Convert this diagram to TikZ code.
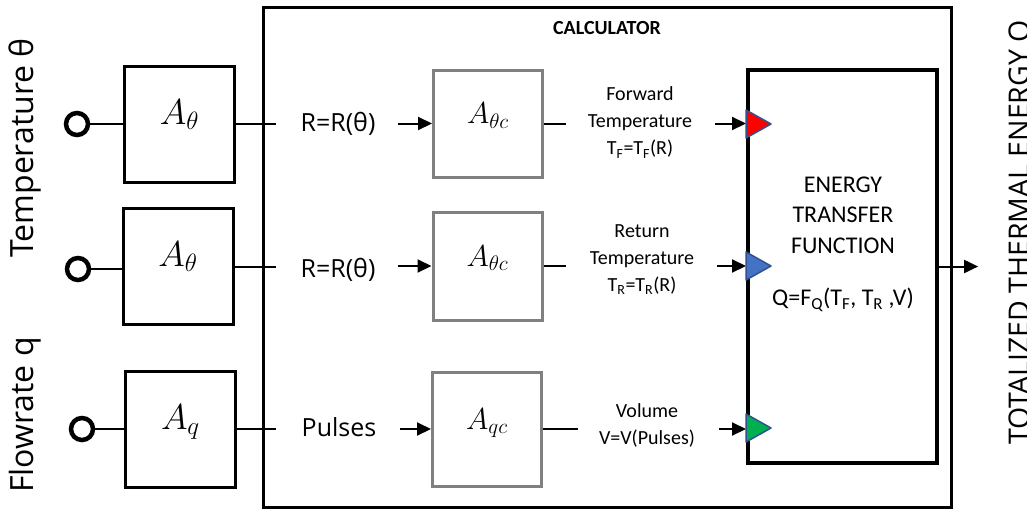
\documentclass[tikz,border=0pt]{standalone}
\usepackage{fontspec}
\setmainfont{Carlito}
\newfontfamily\segfont{Open Sans}
\usetikzlibrary{arrows.meta, positioning, calc}

\definecolor{markblue}{RGB}{68,114,196}
\definecolor{markedge}{RGB}{47,82,143}
\definecolor{markgreen}{RGB}{0,176,80}
\definecolor{boxgray}{RGB}{128,128,128}

\newcommand{\bigmath}[2]{\scalebox{#1}{$#2$}}

\begin{document}
\begin{tikzpicture}[
  x=1pt, y=-1pt,
  every node/.style={inner sep=0pt},
  port/.style={draw, circle, line width=4.5pt, minimum size=22pt},
  inbox/.style={draw, line width=3pt, minimum width=110pt, minimum height=116pt, text height=10pt, text depth=10pt, font=\fontsize{24}{24}\selectfont},
  convbox/.style={draw=boxgray, line width=3pt, minimum width=109pt, text height=9pt, text depth=9pt, font=\fontsize{24}{24}\selectfont},
  sig/.style={font=\segfont\fontsize{25}{25}\selectfont},
  qty/.style={align=center, font=\fontsize{20}{27}\selectfont},
  side/.style={rotate=90, font=\segfont\fontsize{32}{32}\selectfont},
  wire/.style={line width=2pt},
  arrow/.style={-{Triangle[length=14pt,width=13pt]}, line width=2pt},
]
\useasboundingbox (0,0) rectangle (1027,509);
\clip (0,0) rectangle (1027,509);

% Calculator frame
\node[draw, line width=3pt, minimum width=688pt, minimum height=500pt] (calc) at (607,257) {};
\node[font=\bfseries\fontsize{20}{20}\selectfont, below=16pt of calc.north] (calctitle) {CALCULATOR};

% Sensor inputs
\node[side, anchor=base] (templabel) at (33,148) {Temperature θ};
\node[side, anchor=base] (flowlabel) at (33,415) {Flowrate q};

\node[port] (in1) at (77,124) {};
\node[port] (in2) at (78,269) {};
\node[port] (in3) at (82,429) {};

\node[inbox] (sens1) at (179.5,124) {\bigmath{1.45}{A_\theta}};
\node[inbox] (sens2) at (178,266) {\bigmath{1.45}{A_\theta}};
\node[inbox] (sens3) at (180.5,429) {\bigmath{1.45}{A_q}};

\draw[wire] (in1) -- (sens1);
\draw[wire] (in2) -- (in2 -| sens2.west);
\draw[wire] (in3) -- (sens3);

\draw[wire] (sens1.east) -- ($(sens1.east -| calc.west)+(14,0)$);
\draw[wire] (sens2.east |- 0,267) -- ($(0,267 -| calc.west)+(14,0)$);
\draw[wire] (sens3.east) -- ($(sens3.east -| calc.west)+(14,0)$);

% Signals into the calculator
\node[sig] (res1) at (338,124) {R=R(θ)};
\node[sig] (res2) at (338,270) {R=R(θ)};
\node[sig] (pulses) at (339,427) {Pulses};

\node[convbox, minimum height=107pt] (conv1) at (488,123.5) {\bigmath{1.22}{A_{\theta c}}};
\node[convbox, minimum height=108pt] (conv2) at (487.5,266) {\bigmath{1.22}{A_{\theta c}}};
\node[convbox, minimum height=114pt] (conv3) at (487,429) {\bigmath{1.22}{A_{qc}}};

\draw[arrow, shorten <=22pt] (res1.east |- conv1) -- (conv1.west);
\draw[arrow, shorten <=22pt] (res2.east |- conv2) -- (conv2.west);
\draw[arrow, shorten <=23pt] (pulses.east |- conv3) -- (conv3.west);

% Converted quantities
\node[qty] (fwd) at (640,122.5) {Forward\\Temperature\\T\textsubscript{F}=T\textsubscript{F}(R)};
\node[qty] (ret) at (642,260) {Return\\Temperature\\T\textsubscript{R}=T\textsubscript{R}(R)};
\node[qty] (vol) at (647,425) {Volume\\V=V(Pulses)};

\draw[wire, shorten >=22pt] (conv1.east) -- (conv1.east -| fwd.west);
\draw[wire, shorten >=24pt] (conv2.east) -- (conv2.east -| ret.west);
\draw[wire, shorten >=21pt] (conv3.east) -- (conv3.east -| vol.west);

% Energy transfer function
\node[draw, line width=4pt, minimum width=189pt, minimum height=393pt] (etf) at (842.5,266.5) {};
\node[align=center, font=\fontsize{24}{30.5}\selectfont] (etftext) at (843,244)
  {ENERGY\\TRANSFER\\FUNCTION\\[22pt]Q=F\textsubscript{Q}(T\textsubscript{F}, T\textsubscript{R} ,V)};

\draw[arrow, shorten <=23pt] (fwd.east |- conv1) -- (conv1 -| etf.west);
\draw[arrow, shorten <=23pt] (ret.east |- conv2) -- (conv2 -| etf.west);
\draw[arrow, shorten <=24pt] (vol.east |- conv3) -- (conv3 -| etf.west);

\foreach \yy/\col in {124/red, 266/markblue, 428/markgreen}
  \filldraw[fill=\col, draw=markedge, line width=1.5pt, line join=round]
    (etf.west |- 0,\yy) ++(0,-14) -- ++(25,14) -- ++(-25,14) -- cycle;

% Output
\node[rotate=90, anchor=base west, font=\segfont\fontsize{28.5}{28.5}\selectfont] (total) at (1029,445) {TOTALIZED THERMAL ENERGY Q};
\draw[arrow, shorten >=30pt] (etf.east) -- (etf.east -| total.north);

\end{tikzpicture}
\end{document}
